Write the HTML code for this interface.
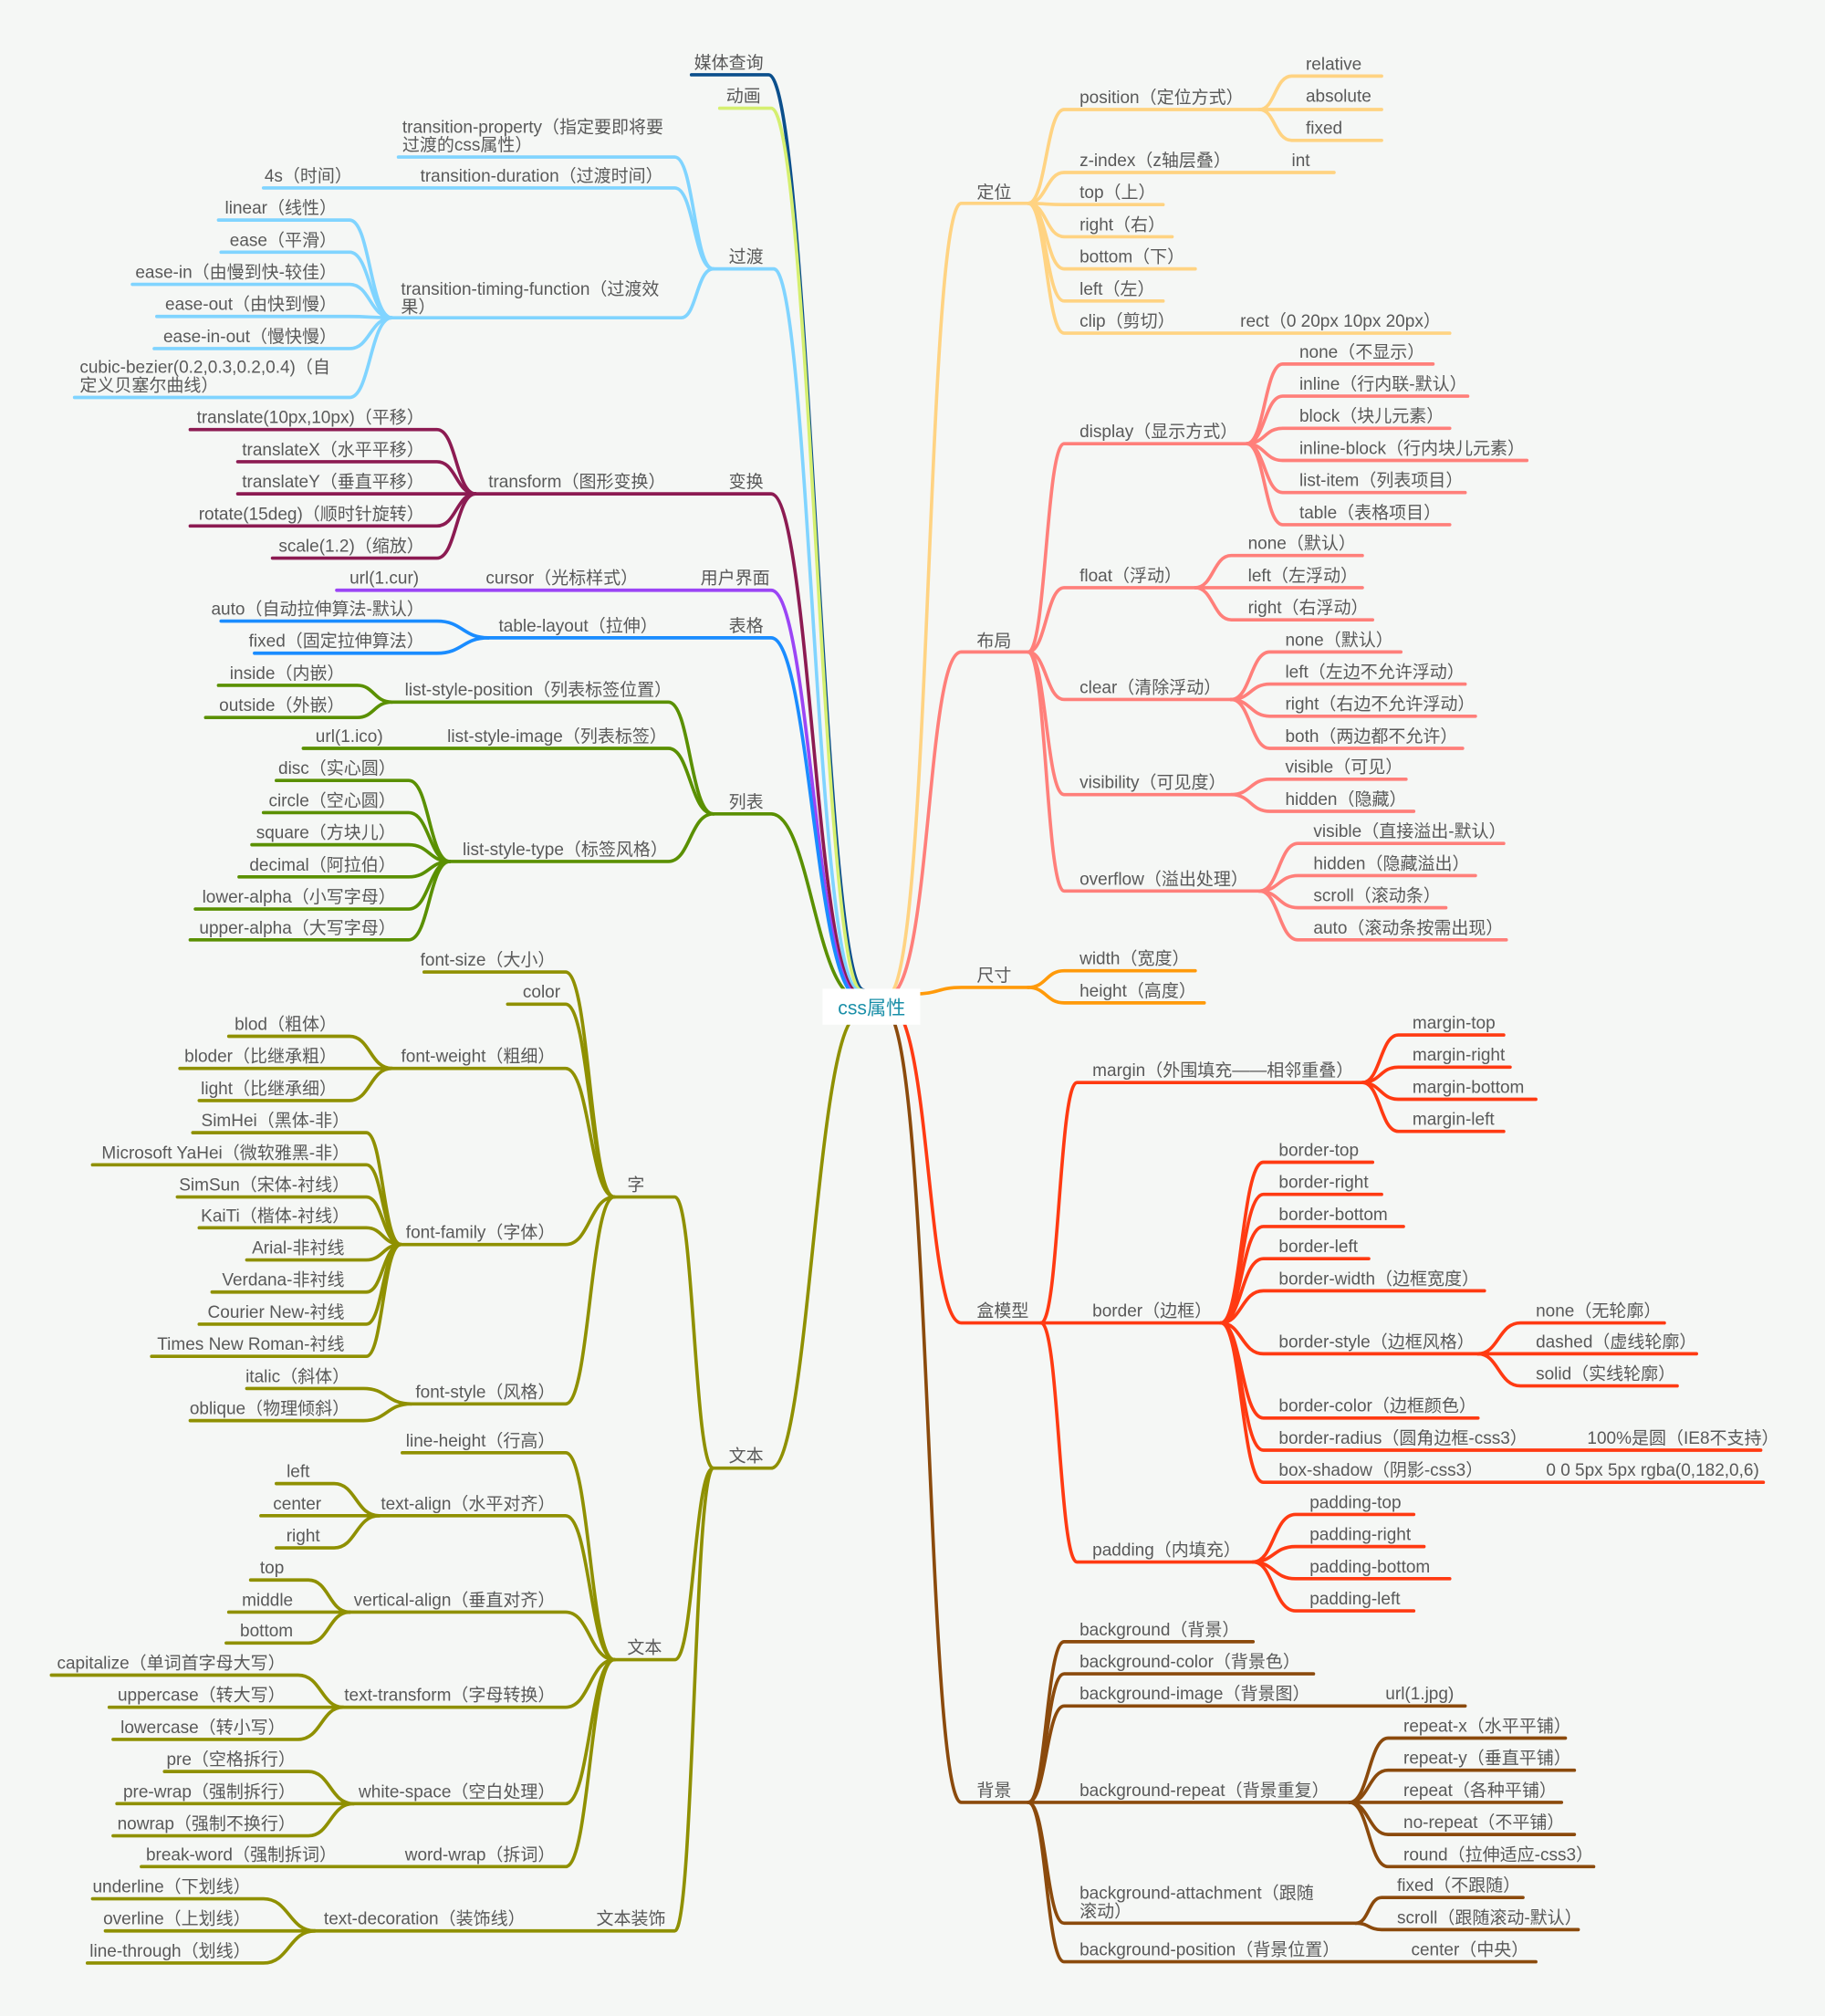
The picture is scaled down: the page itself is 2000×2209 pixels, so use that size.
<!DOCTYPE html>
<html><head><meta charset="utf-8">
<style>
html,body{margin:0;padding:0;background:#f5f7f5;}
svg{display:block}
text{font-family:"Liberation Sans","Noto Sans CJK SC",sans-serif;font-size:13.5px;fill:#595959}
path{fill:none;stroke-linecap:round;stroke-width:2.6}
.e text{text-anchor:end}
</style></head>
<body>
<svg width="2000" height="2209" viewBox="0 0 1420 1568" xmlns="http://www.w3.org/2000/svg">
<rect width="1420" height="1568" fill="#f5f7f5"/>

<!-- 定位 -->
<g stroke="#ffd382">
<path stroke-width="4.5" d="M690 775 C725 775 720 158 748 158 H800"/>
<path d="M800 158 C814 158 814 85 828 85 H980"/>
<path d="M980 85 C992 85 992 59 1005 59 H1075"/>
<path d="M980 85 H1075"/>
<path d="M980 85 C992 85 992 109 1005 109 H1075"/>
<path d="M800 158 C814 158 814 134 828 134 H1038"/>
<path d="M800 158 C814 158 814 159 828 159 H905"/>
<path d="M800 158 C814 158 814 184 828 184 H912"/>
<path d="M800 158 C814 158 814 209 828 209 H930"/>
<path d="M800 158 C814 158 814 234 828 234 H905"/>
<path d="M800 158 C814 158 814 259 828 259 H1128"/>
</g>
<g>
<text x="760" y="154">定位</text>
<text x="840" y="80">position（定位方式）</text>
<text x="1016" y="54">relative</text><text x="1016" y="79">absolute</text><text x="1016" y="104">fixed</text>
<text x="840" y="129">z-index（z轴层叠）</text><text x="1005" y="129">int</text>
<text x="840" y="154">top（上）</text><text x="840" y="179">right（右）</text><text x="840" y="204">bottom（下）</text><text x="840" y="229">left（左）</text>
<text x="840" y="254">clip（剪切）</text><text x="965" y="254">rect（0 20px 10px 20px）</text>
</g>

<!-- 布局 -->
<g stroke="#ff7f7a">
<path stroke-width="4.5" d="M690 775 C725 775 720 507 748 507 H800"/>
<path d="M800 507 C814 507 814 345 828 345 H970"/>
<path d="M970 345 C984 345 984 283 998 283 H1115"/>
<path d="M970 345 C984 345 984 308 998 308 H1142"/>
<path d="M970 345 C984 345 984 333 998 333 H1128"/>
<path d="M970 345 C984 345 984 358 998 358 H1188"/>
<path d="M970 345 C984 345 984 383 998 383 H1140"/>
<path d="M970 345 C984 345 984 408 998 408 H1128"/>
<path d="M800 507 C814 507 814 457 828 457 H930"/>
<path d="M930 457 C944 457 944 432 958 432 H1060"/>
<path d="M930 457 H1060"/>
<path d="M930 457 C944 457 944 482 958 482 H1068"/>
<path d="M800 507 C814 507 814 544 828 544 H958"/>
<path d="M958 544 C973 544 973 507 988 507 H1090"/>
<path d="M958 544 C973 544 973 532 988 532 H1140"/>
<path d="M958 544 C973 544 973 557 988 557 H1148"/>
<path d="M958 544 C973 544 973 582 988 582 H1138"/>
<path d="M800 507 C814 507 814 618 828 618 H958"/>
<path d="M958 618 C973 618 973 606 988 606 H1094"/>
<path d="M958 618 C973 618 973 631 988 631 H1100"/>
<path d="M800 507 C814 507 814 693 828 693 H980"/>
<path d="M980 693 C995 693 995 656 1010 656 H1170"/>
<path d="M980 693 C995 693 995 681 1010 681 H1148"/>
<path d="M980 693 C995 693 995 706 1010 706 H1125"/>
<path d="M980 693 C995 693 995 731 1010 731 H1172"/>
</g>
<g>
<text x="760" y="503">布局</text>
<text x="840" y="340">display（显示方式）</text>
<text x="1011" y="278">none（不显示）</text><text x="1011" y="303">inline（行内联-默认）</text><text x="1011" y="328">block（块儿元素）</text><text x="1011" y="353">inline-block（行内块儿元素）</text><text x="1011" y="378">list-item（列表项目）</text><text x="1011" y="403">table（表格项目）</text>
<text x="840" y="452">float（浮动）</text>
<text x="971" y="427">none（默认）</text><text x="971" y="452">left（左浮动）</text><text x="971" y="477">right（右浮动）</text>
<text x="840" y="539">clear（清除浮动）</text>
<text x="1000" y="502">none（默认）</text><text x="1000" y="527">left（左边不允许浮动）</text><text x="1000" y="552">right（右边不允许浮动）</text><text x="1000" y="577">both（两边都不允许）</text>
<text x="840" y="613">visibility（可见度）</text>
<text x="1000" y="601">visible（可见）</text><text x="1000" y="626">hidden（隐藏）</text>
<text x="840" y="688">overflow（溢出处理）</text>
<text x="1022" y="651">visible（直接溢出-默认）</text><text x="1022" y="676">hidden（隐藏溢出）</text><text x="1022" y="701">scroll（滚动条）</text><text x="1022" y="726">auto（滚动条按需出现）</text>
</g>

<!-- 尺寸 -->
<g stroke="#ff9a0a">
<path stroke-width="4.5" d="M712 773 C730 773 730 768 748 768 H800"/>
<path d="M800 768 C814 768 814 755 828 755 H930"/>
<path d="M800 768 C814 768 814 780 828 780 H937"/>
</g>
<text x="760" y="763">尺寸</text>
<text x="840" y="750">width（宽度）</text>
<text x="840" y="775">height（高度）</text>

<!-- 盒模型 -->
<g stroke="#ff3a12">
<path stroke-width="4.5" d="M690 780 C725 780 720 1029 748 1029 H810"/>
<path d="M810 1029 C824 1029 824 842 838 842 H1060"/>
<path d="M1060 842 C1074 842 1074 805 1088 805 H1170"/>
<path d="M1060 842 C1074 842 1074 830 1088 830 H1175"/>
<path d="M1060 842 C1074 842 1074 855 1088 855 H1195"/>
<path d="M1060 842 C1074 842 1074 880 1088 880 H1170"/>
<path d="M810 1029 H950"/>
<path d="M950 1029 C966 1029 966 904 983 904 H1068"/>
<path d="M950 1029 C966 1029 966 929 983 929 H1075"/>
<path d="M950 1029 C966 1029 966 954 983 954 H1092"/>
<path d="M950 1029 C966 1029 966 979 983 979 H1065"/>
<path d="M950 1029 C966 1029 966 1004 983 1004 H1155"/>
<path d="M950 1029 C966 1029 966 1053 983 1053 H1150"/>
<path d="M950 1029 C966 1029 966 1103 983 1103 H1150"/>
<path d="M950 1029 C966 1029 966 1128 983 1128 H1370"/>
<path d="M950 1029 C966 1029 966 1153 983 1153 H1372"/>
<path d="M1150 1053 C1166 1053 1166 1029 1183 1029 H1295"/>
<path d="M1150 1053 H1320"/>
<path d="M1150 1053 C1166 1053 1166 1078 1183 1078 H1305"/>
<path d="M810 1029 C824 1029 824 1215 838 1215 H975"/>
<path d="M975 1215 C991 1215 991 1178 1008 1178 H1100"/>
<path d="M975 1215 C991 1215 991 1203 1008 1203 H1108"/>
<path d="M975 1215 C991 1215 991 1228 1008 1228 H1128"/>
<path d="M975 1215 C991 1215 991 1253 1008 1253 H1100"/>
</g>
<g>
<text x="760" y="1024">盒模型</text>
<text x="850" y="837">margin（外围填充——相邻重叠）</text>
<text x="1099" y="800">margin-top</text><text x="1099" y="825">margin-right</text><text x="1099" y="850">margin-bottom</text><text x="1099" y="875">margin-left</text>
<text x="850" y="1024">border（边框）</text>
<text x="995" y="899">border-top</text><text x="995" y="924">border-right</text><text x="995" y="949">border-bottom</text><text x="995" y="974">border-left</text>
<text x="995" y="999">border-width（边框宽度）</text><text x="995" y="1048">border-style（边框风格）</text>
<text x="1195" y="1024">none（无轮廓）</text><text x="1195" y="1048">dashed（虚线轮廓）</text><text x="1195" y="1073">solid（实线轮廓）</text>
<text x="995" y="1098">border-color（边框颜色）</text>
<text x="995" y="1123">border-radius（圆角边框-css3）</text><text x="1235" y="1123">100%是圆（IE8不支持）</text>
<text x="995" y="1148">box-shadow（阴影-css3）</text><text x="1203" y="1148">0 0 5px 5px rgba(0,182,0,6)</text>
<text x="850" y="1210">padding（内填充）</text>
<text x="1019" y="1173">padding-top</text><text x="1019" y="1198">padding-right</text><text x="1019" y="1223">padding-bottom</text><text x="1019" y="1248">padding-left</text>
</g>

<!-- 背景 -->
<g stroke="#8b4a0c">
<path stroke-width="4.5" d="M688 785 C725 785 720 1402 748 1402 H800"/>
<path d="M800 1402 C814 1402 814 1277 828 1277 H975"/>
<path d="M800 1402 C814 1402 814 1302 828 1302 H1022"/>
<path d="M800 1402 C814 1402 814 1327 828 1327 H1140"/>
<path d="M800 1402 H1050"/>
<path d="M800 1402 C814 1402 814 1496 828 1496 H1055"/>
<path d="M800 1402 C814 1402 814 1526 828 1526 H1195"/>
<path d="M1050 1402 C1065 1402 1065 1352 1080 1352 H1218"/>
<path d="M1050 1402 C1065 1402 1065 1377 1080 1377 H1225"/>
<path d="M1050 1402 H1215"/>
<path d="M1050 1402 C1065 1402 1065 1427 1080 1427 H1225"/>
<path d="M1050 1402 C1065 1402 1065 1452 1080 1452 H1240"/>
<path d="M1055 1496 C1065 1496 1065 1476 1075 1476 H1185"/>
<path d="M1055 1496 C1065 1496 1065 1501 1075 1501 H1228"/>
</g>
<g>
<text x="760" y="1397">背景</text>
<text x="840" y="1272">background（背景）</text>
<text x="840" y="1297">background-color（背景色）</text>
<text x="840" y="1322">background-image（背景图）</text><text x="1078" y="1322">url(1.jpg)</text>
<text x="840" y="1397">background-repeat（背景重复）</text>
<text x="1092" y="1347">repeat-x（水平平铺）</text><text x="1092" y="1372">repeat-y（垂直平铺）</text><text x="1092" y="1397">repeat（各种平铺）</text><text x="1092" y="1422">no-repeat（不平铺）</text><text x="1092" y="1447">round（拉伸适应-css3）</text>
<text x="840" y="1477">background-attachment（跟随</text><text x="840" y="1491">滚动）</text>
<text x="1087" y="1471">fixed（不跟随）</text><text x="1087" y="1496">scroll（跟随滚动-默认）</text>
<text x="840" y="1521">background-position（背景位置）</text><text x="1098" y="1521">center（中央）</text>
</g>

<!-- 媒体查询 / 动画 -->
<path stroke="#0b4f8c" stroke-width="4" d="M672 770 C640 770 630 58 598 58 H538"/>
<path stroke="#d5ef70" stroke-width="4" d="M670 770 C640 770 630 84 600 84 H560"/>
<g class="e"><text x="594" y="53">媒体查询</text><text x="592" y="79">动画</text></g>

<!-- 过渡 -->
<g stroke="#80d4ff">
<path stroke-width="4.5" d="M668 770 C635 770 630 209 602 209 H555"/>
<path d="M555 209 C540 209 540 122 525 122 H310"/>
<path d="M555 209 C540 209 540 146 525 146 H205"/>
<path d="M555 209 C542 209 542 247 530 247 H305"/>
<path d="M305 247 C288 247 288 171 272 171 H170"/>
<path d="M305 247 C288 247 288 196 272 196 H172"/>
<path d="M305 247 C288 247 288 221 272 221 H103"/>
<path d="M305 247 C288 247 288 246 272 246 H122"/>
<path d="M305 247 C288 247 288 271 272 271 H120"/>
<path d="M305 247 C288 247 288 309 272 309 H58"/>
</g>
<text x="567" y="204">过渡</text>
<text x="313" y="103">transition-property（指定要即将要</text><text x="313" y="117">过渡的css属性）</text>
<text x="327" y="141">transition-duration（过渡时间）</text>
<text x="312" y="229">transition-timing-function（过渡效</text><text x="312" y="243">果）</text>
<text x="62" y="290">cubic-bezier(0.2,0.3,0.2,0.4)（自</text><text x="62" y="304">定义贝塞尔曲线）</text>
<g class="e">
<text x="274" y="141">4s（时间）</text>
<text x="262" y="166">linear（线性）</text><text x="262" y="191">ease（平滑）</text><text x="262" y="216">ease-in（由慢到快-较佳）</text><text x="262" y="241">ease-out（由快到慢）</text><text x="262" y="266">ease-in-out（慢快慢）</text>
</g>

<!-- 变换 -->
<g stroke="#8c1b52">
<path stroke-width="4.5" d="M668 772 C635 772 630 384 600 384 H370"/>
<path d="M370 384 C355 384 355 334 340 334 H148"/>
<path d="M370 384 C355 384 355 359 340 359 H185"/>
<path d="M370 384 H185"/>
<path d="M370 384 C355 384 355 409 340 409 H148"/>
<path d="M370 384 C355 384 355 434 340 434 H212"/>
</g>
<text x="567" y="379">变换</text>
<text x="380" y="379">transform（图形变换）</text>
<g class="e">
<text x="330" y="329">translate(10px,10px)（平移）</text><text x="330" y="354">translateX（水平平移）</text><text x="330" y="379">translateY（垂直平移）</text><text x="330" y="404">rotate(15deg)（顺时针旋转）</text><text x="330" y="429">scale(1.2)（缩放）</text>
</g>

<!-- 用户界面 -->
<path stroke="#9b45f5" stroke-width="4" d="M668 774 C635 774 630 459 600 459 H262"/>
<text x="545" y="454">用户界面</text>
<text x="378" y="454">cursor（光标样式）</text>
<text x="272" y="454">url(1.cur)</text>

<!-- 表格 -->
<g stroke="#1a8cff">
<path stroke-width="4" d="M668 775 C635 775 630 496 600 496 H380"/>
<path d="M380 496 C360 496 360 483 340 483 H172"/>
<path d="M380 496 C360 496 360 508 340 508 H198"/>
</g>
<text x="567" y="491">表格</text>
<text x="388" y="491">table-layout（拉伸）</text>
<g class="e"><text x="330" y="478">auto（自动拉伸算法-默认）</text><text x="330" y="503">fixed（固定拉伸算法）</text></g>

<!-- 列表 -->
<g stroke="#5a9000">
<path stroke-width="4.5" d="M668 776 C635 776 630 633 600 633 H555"/>
<path d="M555 633 C537 633 537 546 520 546 H305"/>
<path d="M305 546 C291 546 291 533 278 533 H170"/>
<path d="M305 546 C291 546 291 558 278 558 H160"/>
<path d="M555 633 C537 633 537 582 520 582 H236"/>
<path d="M555 633 C537 633 537 670 520 670 H350"/>
<path d="M350 670 C334 670 334 607 318 607 H215"/>
<path d="M350 670 C334 670 334 632 318 632 H205"/>
<path d="M350 670 C334 670 334 657 318 657 H196"/>
<path d="M350 670 C334 670 334 682 318 682 H186"/>
<path d="M350 670 C334 670 334 707 318 707 H152"/>
<path d="M350 670 C334 670 334 731 318 731 H148"/>
</g>
<text x="567" y="628">列表</text>
<text x="315" y="541">list-style-position（列表标签位置）</text>
<text x="348" y="577">list-style-image（列表标签）</text>
<text x="360" y="665">list-style-type（标签风格）</text>
<g class="e">
<text x="268" y="528">inside（内嵌）</text><text x="268" y="553">outside（外嵌）</text>
<text x="298" y="577">url(1.ico)</text>
<text x="308" y="602">disc（实心圆）</text><text x="308" y="627">circle（空心圆）</text><text x="308" y="652">square（方块儿）</text><text x="308" y="677">decimal（阿拉伯）</text><text x="308" y="702">lower-alpha（小写字母）</text><text x="308" y="726">upper-alpha（大写字母）</text>
</g>

<!-- 文本 -->
<g stroke="#8f9000">
<path stroke-width="4.5" d="M668 790 C635 790 630 1142 600 1142 H555"/>
<path d="M555 1142 C540 1142 540 931 525 931 H478"/>
<path d="M478 931 C459 931 459 756 440 756 H330"/>
<path d="M478 931 C459 931 459 781 440 781 H395"/>
<path d="M478 931 C459 931 459 831 440 831 H305"/>
<path d="M478 931 C459 931 459 968 440 968 H312"/>
<path d="M478 931 C459 931 459 1092 440 1092 H320"/>
<path d="M305 831 C288 831 288 806 272 806 H178"/>
<path d="M305 831 H140"/>
<path d="M305 831 C288 831 288 856 272 856 H155"/>
<path d="M312 968 C298 968 298 881 285 881 H150"/>
<path d="M312 968 C298 968 298 906 285 906 H72"/>
<path d="M312 968 C298 968 298 931 285 931 H138"/>
<path d="M312 968 C298 968 298 955 285 955 H155"/>
<path d="M312 968 C298 968 298 980 285 980 H192"/>
<path d="M312 968 C298 968 298 1005 285 1005 H165"/>
<path d="M312 968 C298 968 298 1030 285 1030 H155"/>
<path d="M312 968 C298 968 298 1055 285 1055 H118"/>
<path d="M320 1092 C301 1092 301 1080 283 1080 H192"/>
<path d="M320 1092 C301 1092 301 1105 283 1105 H148"/>
<path d="M555 1142 C540 1142 540 1291 525 1291 H478"/>
<path d="M478 1291 C459 1291 459 1130 440 1130 H313"/>
<path d="M478 1291 C459 1291 459 1179 440 1179 H295"/>
<path d="M478 1291 C459 1291 459 1254 440 1254 H272"/>
<path d="M478 1291 C459 1291 459 1328 440 1328 H267"/>
<path d="M478 1291 C459 1291 459 1403 440 1403 H275"/>
<path d="M478 1291 C459 1291 459 1452 440 1452 H110"/>
<path d="M295 1179 C277 1179 277 1154 260 1154 H215"/>
<path d="M295 1179 H203"/>
<path d="M295 1179 C277 1179 277 1204 260 1204 H215"/>
<path d="M272 1254 C256 1254 256 1229 240 1229 H195"/>
<path d="M272 1254 H178"/>
<path d="M272 1254 C256 1254 256 1278 240 1278 H176"/>
<path d="M267 1328 C250 1328 250 1303 232 1303 H40"/>
<path d="M267 1328 H85"/>
<path d="M267 1328 C250 1328 250 1353 232 1353 H88"/>
<path d="M275 1403 C257 1403 257 1378 240 1378 H128"/>
<path d="M275 1403 H91"/>
<path d="M275 1403 C257 1403 257 1428 240 1428 H88"/>
<path d="M555 1142 C540 1142 540 1502 525 1502 H245"/>
<path d="M245 1502 C225 1502 225 1477 205 1477 H72"/>
<path d="M245 1502 H82"/>
<path d="M245 1502 C225 1502 225 1527 205 1527 H68"/>
</g>
<text x="567" y="1137">文本</text>
<text x="488" y="926">字</text>
<text x="488" y="1286">文本</text>
<text x="464" y="1497">文本装饰</text>
<text x="252" y="1497">text-decoration（装饰线）</text>
<g class="e">
<text x="432" y="751">font-size（大小）</text><text x="436" y="776">color</text><text x="432" y="826">font-weight（粗细）</text><text x="432" y="963">font-family（字体）</text><text x="432" y="1087">font-style（风格）</text>
<text x="262" y="801">blod（粗体）</text><text x="262" y="826">bloder（比继承粗）</text><text x="262" y="851">light（比继承细）</text>
<text x="272" y="876">SimHei（黑体-非）</text><text x="272" y="901">Microsoft YaHei（微软雅黑-非）</text><text x="272" y="926">SimSun（宋体-衬线）</text><text x="272" y="950">KaiTi（楷体-衬线）</text><text x="268" y="975">Arial-非衬线</text><text x="268" y="1000">Verdana-非衬线</text><text x="268" y="1025">Courier New-衬线</text><text x="268" y="1050">Times New Roman-衬线</text>
<text x="272" y="1075">italic（斜体）</text><text x="272" y="1100">oblique（物理倾斜）</text>
<text x="432" y="1125">line-height（行高）</text><text x="432" y="1174">text-align（水平对齐）</text><text x="432" y="1249">vertical-align（垂直对齐）</text><text x="432" y="1323">text-transform（字母转换）</text><text x="432" y="1398">white-space（空白处理）</text><text x="432" y="1447">word-wrap（拆词）</text>
<text x="241" y="1149">left</text><text x="250" y="1174">center</text><text x="249" y="1199">right</text>
<text x="221" y="1224">top</text><text x="228" y="1249">middle</text><text x="228" y="1273">bottom</text>
<text x="222" y="1298">capitalize（单词首字母大写）</text><text x="222" y="1323">uppercase（转大写）</text><text x="222" y="1348">lowercase（转小写）</text>
<text x="230" y="1373">pre（空格拆行）</text><text x="230" y="1398">pre-wrap（强制拆行）</text><text x="230" y="1423">nowrap（强制不换行）</text>
<text x="262" y="1447">break-word（强制拆词）</text>
<text x="195" y="1472">underline（下划线）</text><text x="195" y="1497">overline（上划线）</text><text x="195" y="1522">line-through（划线）</text>
</g>

<!-- center -->
<rect x="640" y="769" width="76" height="28" fill="#ffffff"/>
<text x="652" y="789" style="fill:#1a8fa8;font-size:15px">css属性</text>
</svg>
</body></html>
